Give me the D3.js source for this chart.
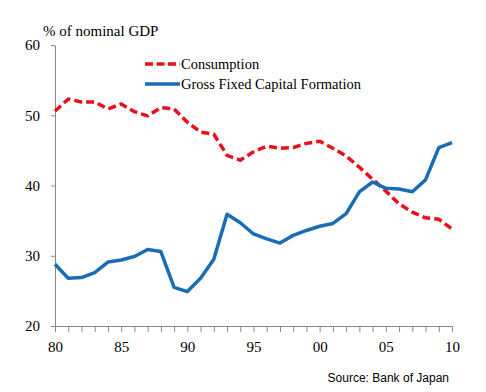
<!DOCTYPE html>
<html>
<head>
<meta charset="utf-8">
<script src="https://cdn.jsdelivr.net/npm/d3@7"></script>
<style>
  body { margin: 0; background: #fff; }
  svg text { font-family: "Liberation Serif", "Times New Roman", serif; }
</style>
</head>
<body>
<div id="chart"></div>
<script>
// data (share of nominal GDP, %)
const years = d3.range(1980, 2011);
const consumption = [
  50.6, 52.3, 51.9, 51.9, 50.9, 51.6, 50.5, 49.9, 51.1, 50.9,
  49.0, 47.6, 47.3, 44.3, 43.6, 44.8, 45.6, 45.3, 45.4, 46.0,
  46.3, 45.3, 44.2, 42.6, 40.9, 39.2, 37.4, 36.2, 35.4, 35.2, 33.8
];
const gfcf = [
  28.8, 26.8, 26.9, 27.6, 29.1, 29.4, 29.9, 30.9, 30.6, 25.5,
  24.9, 26.8, 29.5, 35.9, 34.7, 33.1, 32.4, 31.8, 32.9, 33.6,
  34.2, 34.6, 36.0, 39.1, 40.5, 39.6, 39.5, 39.1, 40.8, 45.4, 46.1
];
const yTicks = [20, 30, 40, 50, 60];
const xTicks = [1980, 1985, 1990, 1995, 2000, 2005, 2010];

const width = 486;
const height = 392;
const margin = { top: 45, right: 34, bottom: 66, left: 55 };

const svg = d3.select("#chart").append("svg")
  .attr("width", width)
  .attr("height", height);

const x = d3.scaleLinear().domain([1980, 2010]).range([margin.left, width - margin.right]);
const y = d3.scaleLinear().domain([20, 60]).range([height - margin.bottom, margin.top]);

// y axis
const yAxis = svg.append("g")
  .attr("transform", `translate(${margin.left},0)`)
  .call(d3.axisLeft(y).tickValues(yTicks).tickSize(4).tickPadding(11).tickSizeOuter(0));
yAxis.select(".domain").attr("stroke", "#888");
yAxis.selectAll(".tick line").attr("stroke", "#888");
yAxis.selectAll("text").style("font-size", "15px").attr("fill", "#000")
  .style("font-family", "Liberation Serif, serif");

// x axis: yearly ticks, labels every 5 years
const xAxis = svg.append("g")
  .attr("transform", `translate(0,${y(20)})`)
  .call(d3.axisBottom(x).tickValues(years).tickSize(6).tickSizeOuter(0)
    .tickFormat(d => xTicks.includes(d) ? String(d % 100).padStart(2, "0") : ""))
  ;
xAxis.select(".domain").attr("stroke", "#888");
xAxis.selectAll(".tick line").attr("stroke", "#888");
xAxis.selectAll("text").style("font-size", "15px").attr("fill", "#000")
  .attr("dy", "1.15em")
  .style("font-family", "Liberation Serif, serif");

const line = d3.line().x((d, i) => x(years[i])).y(d => y(d));

svg.append("path")
  .datum(consumption)
  .attr("fill", "none")
  .attr("stroke", "#e8101a")
  .attr("stroke-width", 3.5)
  .attr("stroke-dasharray", "8 4")
  .attr("d", line);

svg.append("path")
  .datum(gfcf)
  .attr("fill", "none")
  .attr("stroke", "#1a6db5")
  .attr("stroke-width", 3.5)
  .attr("stroke-linejoin", "round")
  .attr("d", line);

// title
svg.append("text")
  .attr("x", 43)
  .attr("y", 36)
  .style("font-size", "15px")
  .text("% of nominal GDP");

// legend
const legend = [
  { label: "Consumption", color: "#e8101a", dash: "8 3.5", y: 64 },
  { label: "Gross Fixed Capital Formation", color: "#1a6db5", dash: null, y: 84 }
];
legend.forEach(l => {
  svg.append("line")
    .attr("x1", 145).attr("x2", 180)
    .attr("y1", l.y).attr("y2", l.y)
    .attr("stroke", l.color)
    .attr("stroke-width", 3.5)
    .attr("stroke-dasharray", l.dash);
  svg.append("text")
    .attr("x", 181)
    .attr("y", l.y + 5)
    .style("font-size", "14.5px")
    .text(l.label);
});

svg.append("text")
  .attr("x", 449)
  .attr("y", 382)
  .attr("text-anchor", "end")
  .style("font-family", "Liberation Sans, Arial, sans-serif")
  .style("font-size", "12px")
  .text("Source: Bank of Japan");
</script>
</body>
</html>
